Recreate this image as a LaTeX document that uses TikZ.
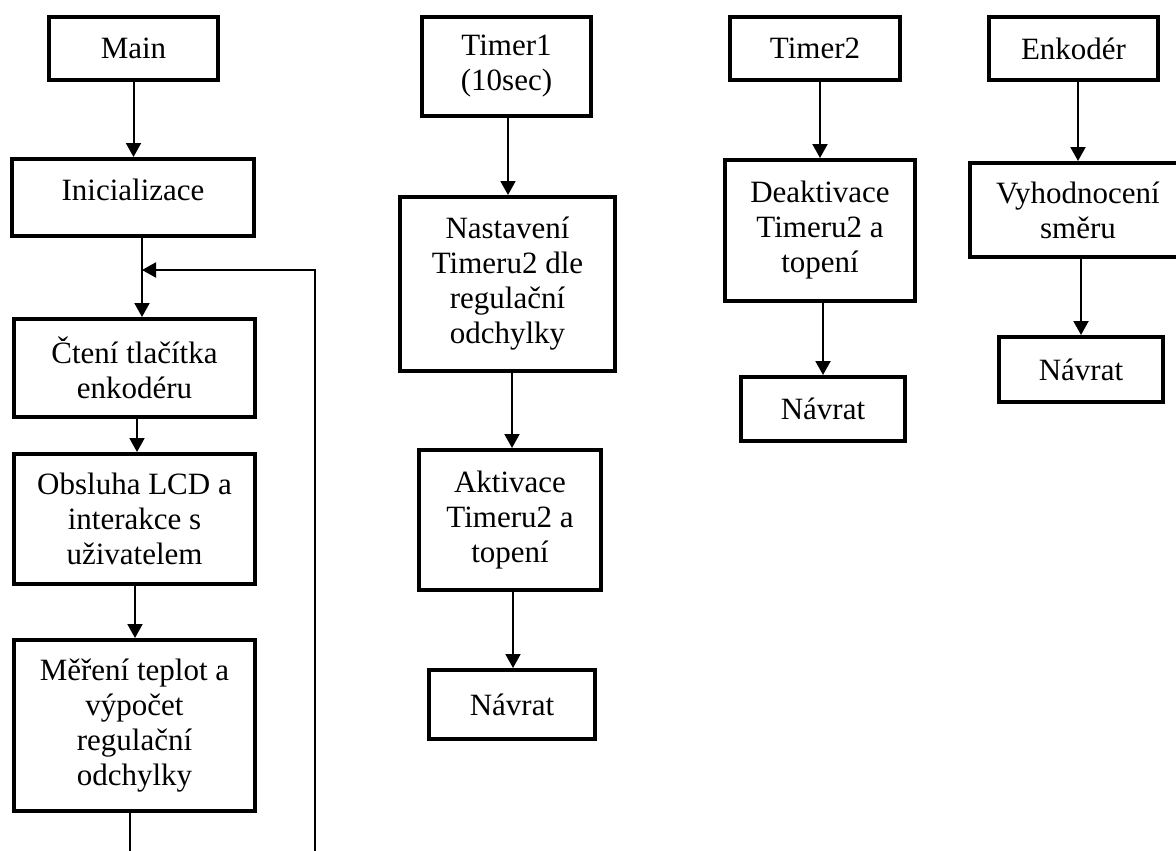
\documentclass[tikz,border=0pt]{standalone}
\usepackage{fontspec}
\setmainfont{Liberation Serif}
\usetikzlibrary{arrows.meta}
\newcommand\boxfont{\fontsize{31}{35}\selectfont}
\begin{document}
\begin{tikzpicture}[x=1pt,y=-1pt,
  stepbox/.style={draw, line width=4pt, inner sep=0pt, align=center, font=\boxfont},
  arr/.style={line width=2pt, -{Triangle[width=15pt,length=14pt]}},
  wire/.style={line width=2pt}]
\useasboundingbox (0,0) rectangle (1176,851);
\clip (0,0) rectangle (1176,851);

% Main loop
\node[stepbox, minimum width=169pt, minimum height=63pt] (main) at (133.5,48.5) {Main};
\node[stepbox, minimum width=242pt, minimum height=77pt, text depth=16pt] (init) at (133,197.5) {Inicializace};
\node[stepbox, minimum width=241pt, minimum height=98pt] (cteni) at (134.5,368) {Čtení tlačítka\\enkodéru};
\node[stepbox, minimum width=241pt, minimum height=130pt] (obsl) at (134.5,519) {Obsluha LCD a\\interakce s\\uživatelem};
\node[stepbox, minimum width=241pt, minimum height=171pt] (mereni) at (134.5,725.5) {Měření teplot a\\výpočet\\regulační\\odchylky};

% Timer1 interrupt
\node[stepbox, minimum width=169pt, minimum height=99pt] (t1) at (506.5,66.5) {Timer1\\(10sec)};
\node[stepbox, minimum width=215pt, minimum height=174pt] (nast) at (507.5,284) {Nastavení\\Timeru2 dle\\regulační\\odchylky};
\node[stepbox, minimum width=182pt, minimum height=140pt] (akt) at (510,520) {Aktivace\\Timeru2 a\\topení};
\node[stepbox, minimum width=166pt, minimum height=69pt] (ret1) at (512,704.5) {Návrat};

% Timer2 interrupt
\node[stepbox, minimum width=170pt, minimum height=63pt] (t2) at (815,48.5) {Timer2};
\node[stepbox, minimum width=190pt, minimum height=141pt] (deakt) at (820,230.5) {Deaktivace\\Timeru2 a\\topení};
\node[stepbox, minimum width=164pt, minimum height=64pt] (ret2) at (823,409) {Návrat};

% Encoder interrupt
\node[stepbox, minimum width=169pt, minimum height=63pt] (enk) at (1073.5,48.5) {Enkodér};
\node[stepbox, minimum width=216pt, minimum height=94pt] (vyh) at (1078,210) {Vyhodnocení\\směru};
\node[stepbox, minimum width=164pt, minimum height=65pt] (ret3) at (1081,369.5) {Návrat};

% loop return path and open ends
\coordinate (merge) at (142,270);
\coordinate (loopbot) at (315,856);
\coordinate (mout) at (129.5,856);

% connectors
\draw[arr] (main.south) -- (main.south |- init.north);
\draw[arr] ([xshift=9pt]init.south) -- ([xshift=9pt]init.south |- cteni.north);
\draw[arr] (loopbot) |- (merge);
\draw[arr] ([xshift=2.5pt]cteni.south) -- ([xshift=2.5pt]cteni.south |- obsl.north);
\draw[arr] ([xshift=0.5pt]obsl.south) -- ([xshift=0.5pt]obsl.south |- mereni.north);
\draw[wire] (mout |- mereni.south) -- (mout);

\draw[arr] ([xshift=1.5pt]t1.south) -- ([xshift=1.5pt]t1.south |- nast.north);
\draw[arr] ([xshift=4.5pt]nast.south) -- ([xshift=4.5pt]nast.south |- akt.north);
\draw[arr] ([xshift=3pt]akt.south) -- ([xshift=3pt]akt.south |- ret1.north);

\draw[arr] ([xshift=5pt]t2.south) -- ([xshift=5pt]t2.south |- deakt.north);
\draw[arr] ([xshift=3pt]deakt.south) -- ([xshift=3pt]deakt.south |- ret2.north);

\draw[arr] ([xshift=4.5pt]enk.south) -- ([xshift=4.5pt]enk.south |- vyh.north);
\draw[arr] ([xshift=3pt]vyh.south) -- ([xshift=3pt]vyh.south |- ret3.north);
\end{tikzpicture}
\end{document}
